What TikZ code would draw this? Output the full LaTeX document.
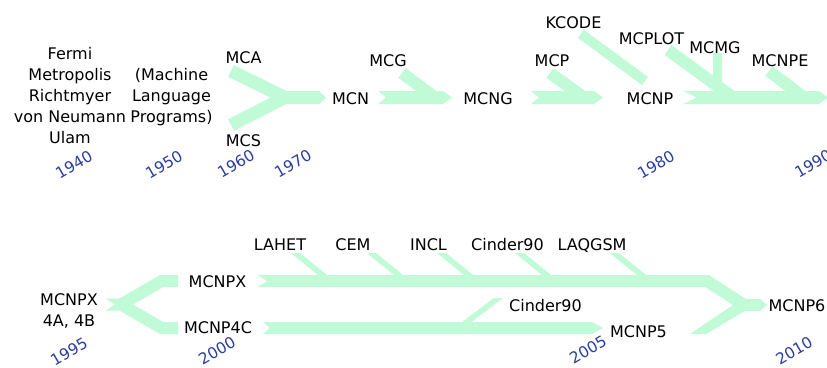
\documentclass[tikz,border=0pt]{standalone}
\usepackage{fontspec}
\setmainfont{DejaVu Sans}
\definecolor{flow}{RGB}{192,250,214}
\definecolor{yearblue}{RGB}{44,62,160}
\tikzset{
  lbl/.style={inner sep=0pt, font=\fontsize{16}{21}\selectfont, anchor=base},
  block/.style={inner sep=0pt, font=\fontsize{16}{21}\selectfont, align=center, anchor=north},
  yr/.style={inner sep=0pt, font=\fontsize{15.5}{18}\selectfont, text=yearblue, rotate=30},
  band/.style={draw=flow, line width=13pt, line join=miter, line cap=butt},
  feed/.style={draw=flow, line width=12pt, line join=miter, line cap=butt},
}
\begin{document}
\begin{tikzpicture}[x=1pt, y=-1pt]
\useasboundingbox (0,0) rectangle (827,367);
\fill[white] (0,0) rectangle (827,367);

% ---------- 1940 - 1990 ----------
% MCA + MCS merge
\draw[band] (231,71) -- (285,97.5) -- (320,97.5);
\draw[band] (231,125) -- (285,97.5);
\fill[flow] (319,91) -- (326,97.5) -- (319,104) -- cycle;

% MCN -> MCNG, fed by MCG
\fill[flow] (378,91) -- (443,91) -- (452,97.5) -- (443,104) -- (378,104) -- (386,97.5) -- cycle;
\draw[feed] (402,73) -- (435,97.5);

% MCNG -> MCNP, fed by MCP
\fill[flow] (531,91) -- (594,91) -- (603,97.5) -- (594,104) -- (531,104) -- (539,97.5) -- cycle;
\draw[feed] (550,73) -- (584,97.5);

% KCODE
\draw[draw=flow, line width=10pt] (581,34) -- (645,81);

% MCNP -> 1990, fed by MCPLOT, MCMG, MCNPE
\fill[flow] (683,91) -- (819,91) -- (828,97.5) -- (819,104) -- (683,104) -- (697,97.5) -- cycle;
\draw[feed] (668,50) -- (733,97.5);
\draw[draw=flow, line width=9pt] (717.5,53) -- (717.5,97.5);
\draw[feed] (769,71) -- (804,97.5);

% ---------- 1995 - 2010 ----------
% MCNPX 4A, 4B fork
\fill[flow] (106,298.5) -- (125,298.5) -- (125,310.5) -- (106,310.5) -- (115,304.5) -- cycle;
\draw[feed] (121,304.5) -- (161.7,281) -- (178,281);
\draw[feed] (121,304.5) -- (161.7,328) -- (178,328);

% MCNPX line into MCNP6
\fill[flow] (258,275) -- (270,275) -- (270,287) -- (258,287) -- (267,281) -- cycle;
\draw[feed] (269,281) -- (707,281) -- (744,305) -- (761,305);
\fill[flow] (690,334) -- (706,334) -- (748,309) -- (748,303) -- (733,305) -- cycle;
\fill[flow] (760,299) -- (767,305) -- (760,311) -- cycle;

% MCNP4C line into MCNP5
\fill[flow] (263,322) -- (592,322) -- (603,328) -- (592,334) -- (263,334) -- (270,328) -- cycle;

% thin feeders
\foreach \xo in {291,367,437,515,610}
  \fill[flow] (\xo,253) -- (\xo+9,253) -- (\xo+38.5,277) -- (\xo+29.5,277) -- cycle;
\fill[flow] (494,298) -- (503,298) -- (468.7,324) -- (459.7,324) -- cycle;

% ---------- labels ----------
\node[block] (pioneers) at (70,46.8) {Fermi\\Metropolis\\Richtmyer\\von Neumann\\Ulam};
\node[block] (machine) at (171.5,67.8) {(Machine\\Language\\Programs)};
\node[lbl] (mca) at (243.5,63) {MCA};
\node[lbl] (mcs) at (243.5,146.5) {MCS};
\node[lbl] (mcn) at (350.5,104) {MCN};
\node[lbl] (mcg) at (388,66.5) {MCG};
\node[lbl] (mcng) at (488,104) {MCNG};
\node[lbl] (mcp) at (552,66.5) {MCP};
\node[lbl] (kcode) at (573.5,28) {KCODE};
\node[lbl] (mcplot) at (651.5,44) {MCPLOT};
\node[lbl] (mcmg) at (715,53) {MCMG};
\node[lbl] (mcnpe) at (780,66) {MCNPE};
\node[lbl] (mcnp) at (650,104) {MCNP};

\node[block] (mcnpx4) at (69,293.3) {MCNPX\\4A, 4B};
\node[lbl] (mcnpx) at (217.5,287.5) {MCNPX};
\node[lbl] (mcnp4c) at (218,333) {MCNP4C};
\node[lbl] (lahet) at (280,250) {LAHET};
\node[lbl] (cem) at (353,250) {CEM};
\node[lbl] (incl) at (428.5,250) {INCL};
\node[lbl] (cinderA) at (507.5,250) {Cinder90};
\node[lbl] (laqgsm) at (592,250) {LAQGSM};
\node[lbl] (cinderB) at (545.5,311) {Cinder90};
\node[lbl] (mcnp5) at (638.5,337) {MCNP5};
\node[lbl] (mcnp6) at (797,311) {MCNP6};

% ---------- years ----------
\node[yr] (y1940) at (74,165) {1940};
\node[yr] (y1950) at (164,165) {1950};
\node[yr] (y1960) at (236,164) {1960};
\node[yr] (y1970) at (293,164) {1970};
\node[yr] (y1980) at (656,165) {1980};
\node[yr] (y1990) at (813,164) {1990};
\node[yr] (y1995) at (69,352) {1995};
\node[yr] (y2000) at (217,351) {2000};
\node[yr] (y2005) at (588,350) {2005};
\node[yr] (y2010) at (794,351) {2010};
\end{tikzpicture}
\end{document}
